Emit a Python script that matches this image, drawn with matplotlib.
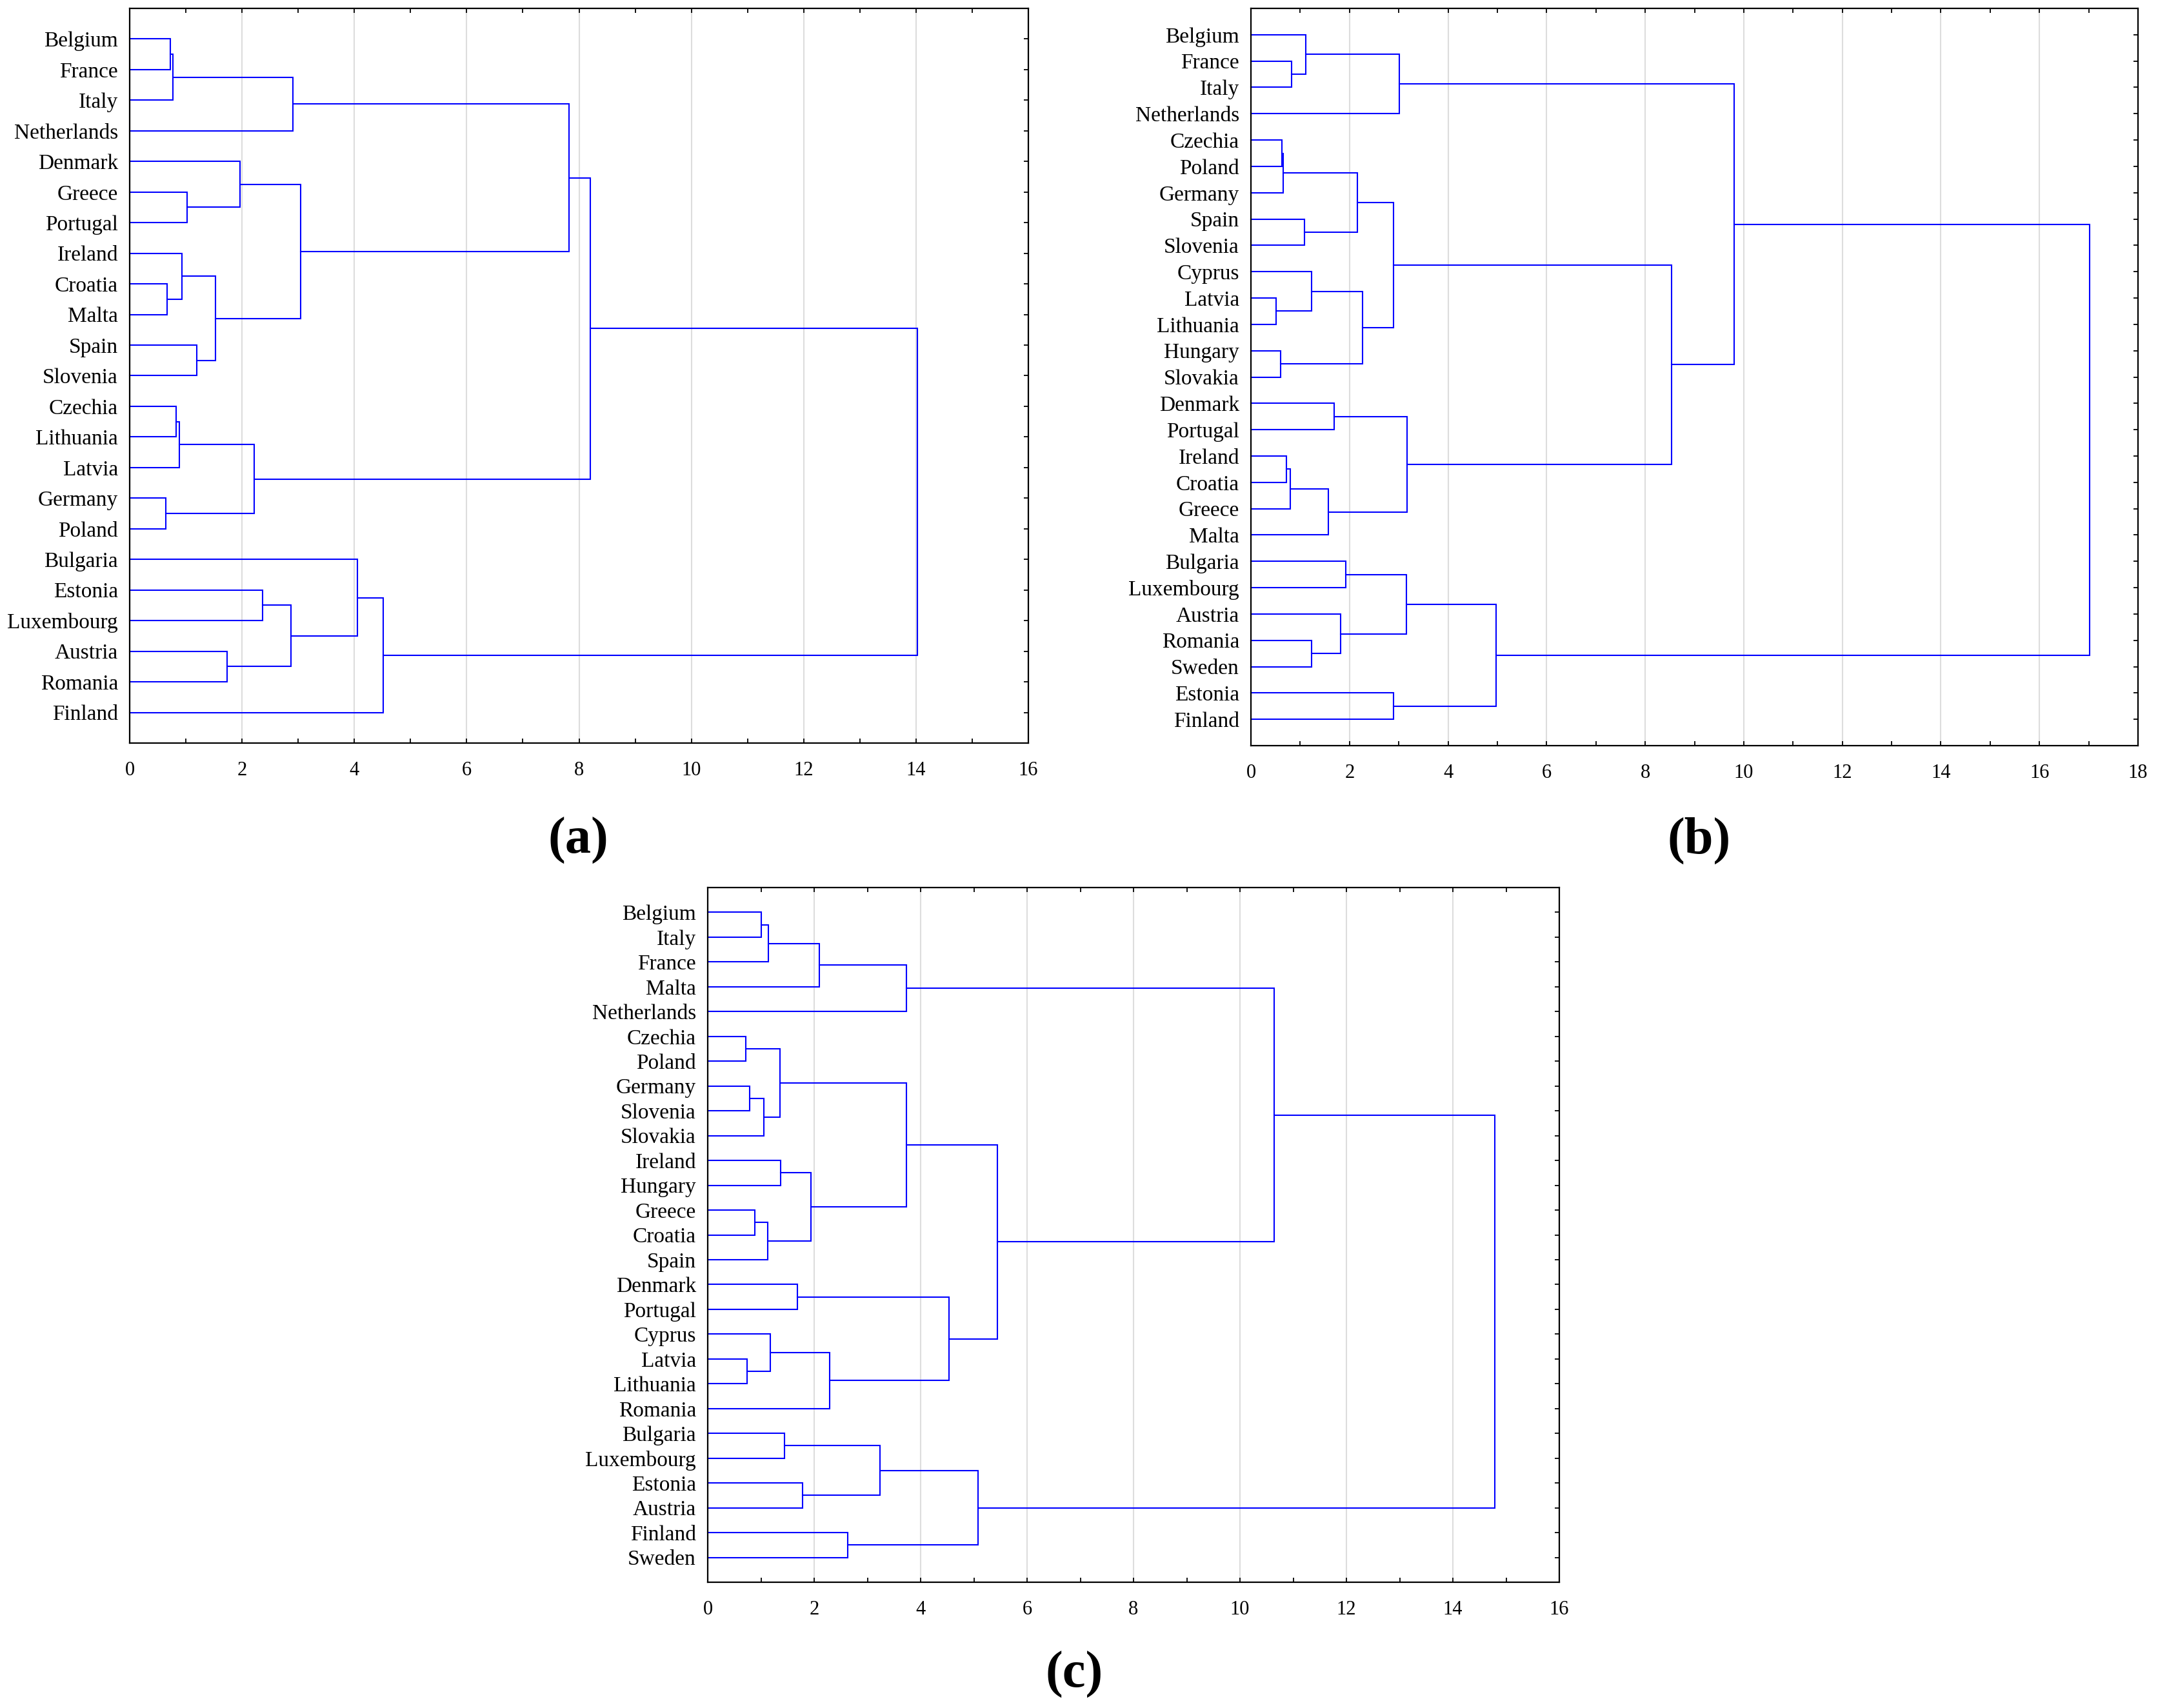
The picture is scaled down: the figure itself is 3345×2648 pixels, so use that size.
import matplotlib
matplotlib.use("Agg")
import matplotlib.pyplot as plt
from matplotlib.ticker import MultipleLocator

plt.rcParams['font.family'] = ['Liberation Serif', 'DejaVu Serif']

# ---------------- data ----------------
leaves_a = ["Belgium", "France", "Italy", "Netherlands", "Denmark", "Greece", "Portugal",
            "Ireland", "Croatia", "Malta", "Spain", "Slovenia", "Czechia", "Lithuania",
            "Latvia", "Germany", "Poland", "Bulgaria", "Estonia", "Luxembourg", "Austria",
            "Romania", "Finland"]
# (child1, child2, linkage distance); ints refer to earlier merges
merges_a = [
    ("Belgium", "France", 0.72),
    (0, "Italy", 0.77),
    (1, "Netherlands", 2.91),
    ("Greece", "Portugal", 1.02),
    ("Denmark", 3, 1.96),
    ("Croatia", "Malta", 0.67),
    ("Ireland", 5, 0.93),
    ("Spain", "Slovenia", 1.19),
    (6, 7, 1.53),
    (4, 8, 3.04),
    (2, 9, 7.82),
    ("Czechia", "Lithuania", 0.83),
    (11, "Latvia", 0.88),
    ("Germany", "Poland", 0.64),
    (12, 13, 2.22),
    (10, 14, 8.20),
    ("Estonia", "Luxembourg", 2.37),
    ("Austria", "Romania", 1.73),
    (16, 17, 2.87),
    ("Bulgaria", 18, 4.05),
    (19, "Finland", 4.51),
    (15, 20, 14.02),
]

leaves_b = ["Belgium", "France", "Italy", "Netherlands", "Czechia", "Poland", "Germany",
            "Spain", "Slovenia", "Cyprus", "Latvia", "Lithuania", "Hungary", "Slovakia",
            "Denmark", "Portugal", "Ireland", "Croatia", "Greece", "Malta", "Bulgaria",
            "Luxembourg", "Austria", "Romania", "Sweden", "Estonia", "Finland"]
merges_b = [
    ("France", "Italy", 0.82),
    ("Belgium", 0, 1.11),
    (1, "Netherlands", 3.01),
    ("Czechia", "Poland", 0.63),
    (3, "Germany", 0.66),
    ("Spain", "Slovenia", 1.09),
    (4, 5, 2.16),
    ("Latvia", "Lithuania", 0.51),
    ("Cyprus", 7, 1.23),
    ("Hungary", "Slovakia", 0.60),
    (8, 9, 2.26),
    (6, 10, 2.89),
    ("Denmark", "Portugal", 1.69),
    ("Ireland", "Croatia", 0.72),
    (13, "Greece", 0.80),
    (14, "Malta", 1.57),
    (12, 15, 3.17),
    (11, 16, 8.53),
    (2, 17, 9.80),
    ("Bulgaria", "Luxembourg", 1.92),
    ("Romania", "Sweden", 1.23),
    ("Austria", 20, 1.82),
    (19, 21, 3.16),
    ("Estonia", "Finland", 2.89),
    (22, 23, 4.98),
    (18, 24, 17.02),
]

leaves_c = ["Belgium", "Italy", "France", "Malta", "Netherlands", "Czechia", "Poland",
            "Germany", "Slovenia", "Slovakia", "Ireland", "Hungary", "Greece", "Croatia",
            "Spain", "Denmark", "Portugal", "Cyprus", "Latvia", "Lithuania", "Romania",
            "Bulgaria", "Luxembourg", "Estonia", "Austria", "Finland", "Sweden"]
merges_c = [
    ("Belgium", "Italy", 1.00),
    (0, "France", 1.14),
    (1, "Malta", 2.10),
    (2, "Netherlands", 3.73),
    ("Czechia", "Poland", 0.71),
    ("Germany", "Slovenia", 0.79),
    (5, "Slovakia", 1.05),
    (4, 6, 1.36),
    ("Ireland", "Hungary", 1.37),
    ("Greece", "Croatia", 0.89),
    (9, "Spain", 1.13),
    (8, 10, 1.94),
    (7, 11, 3.73),
    ("Denmark", "Portugal", 1.68),
    ("Latvia", "Lithuania", 0.74),
    ("Cyprus", 14, 1.18),
    (15, "Romania", 2.29),
    (13, 16, 4.53),
    (12, 17, 5.44),
    (3, 18, 10.64),
    ("Bulgaria", "Luxembourg", 1.44),
    ("Estonia", "Austria", 1.78),
    (20, 21, 3.24),
    ("Finland", "Sweden", 2.63),
    (22, 23, 5.08),
    (19, 24, 14.79),
]

xmax_a, xmax_b, xmax_c = 16, 18, 16
panel_labels = ["(a)", "(b)", "(c)"]

# ---------------- drawing ----------------
W, H = 3345, 2648
fig = plt.figure(figsize=(W / 100, H / 100), dpi=100)


def px_axes(l, t, r, b):
    return fig.add_axes([l / W, 1 - b / H, (r - l) / W, (b - t) / H])


def draw_dendro(ax, leaves, merges, xmax):
    pos = {name: (0.0, i + 1) for i, name in enumerate(leaves)}
    nodes = []

    def get(c):
        return nodes[c] if isinstance(c, int) else pos[c]

    for c1, c2, h in merges:
        x1, y1 = get(c1)
        x2, y2 = get(c2)
        ax.plot([x1, h, h, x2], [y1, y1, y2, y2], color='#0000FF', lw=1.5,
                solid_joinstyle='miter', zorder=3, clip_on=False)
        nodes.append((h, (y1 + y2) / 2))

    n = len(leaves)
    ax.set_ylim(n + 1, 0)
    ax.set_xlim(0, xmax)
    ax.set_yticks(range(1, n + 1))
    ax.set_yticklabels(leaves, fontsize=24)
    ax.xaxis.set_major_locator(MultipleLocator(2))
    ax.xaxis.set_minor_locator(MultipleLocator(1))
    ax.tick_params(axis='x', which='both', direction='in', top=True, bottom=True,
                   length=5, width=1.3, labelsize=22, pad=20)
    ax.tick_params(axis='y', which='both', direction='in', left=True, right=True,
                   length=5, width=1.3, pad=13)
    ax.grid(axis='x', which='major', color='#dddddd', lw=1.5, zorder=0)
    ax.set_axisbelow(True)
    for s in ax.spines.values():
        s.set_linewidth(1.6)
        s.set_zorder(4)


ax_a = px_axes(201, 13, 1594, 1152)
ax_b = px_axes(1939, 13, 3314, 1156)
ax_c = px_axes(1097, 1376, 2417, 2453)

draw_dendro(ax_a, leaves_a, merges_a, xmax_a)
draw_dendro(ax_b, leaves_b, merges_b, xmax_b)
draw_dendro(ax_c, leaves_c, merges_c, xmax_c)

label_pos = [(896, 1303), (2634, 1303), (1665, 2596)]
for lab, (x, y) in zip(panel_labels, label_pos):
    fig.text(x / W, 1 - y / H, lab, fontsize=58, fontweight='bold',
             ha='center', va='center')

fig.savefig("out.png", dpi=100)
